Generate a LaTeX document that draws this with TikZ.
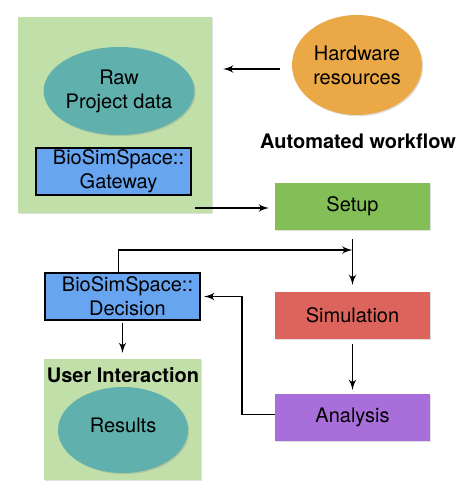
\documentclass[tikz,border=0pt]{standalone}
\usepackage{fontspec}
\setmainfont{TeX Gyre Heros}
\usetikzlibrary{arrows,positioning,shapes.geometric,shadows}

\definecolor{panelgreen}{RGB}{193,223,169}
\definecolor{blobteal}{RGB}{96,176,174}
\definecolor{gateblue}{RGB}{104,165,240}
\definecolor{hwgold}{RGB}{234,168,70}
\definecolor{setupgreen}{RGB}{132,190,87}
\definecolor{simred}{RGB}{221,100,92}
\definecolor{anapurple}{RGB}{168,111,219}

\begin{document}
\begin{tikzpicture}[x=0.5pt,y=-0.5pt,>=latex',line width=0.8pt,
    font=\fontsize{10}{12}\selectfont,
    soft/.style={drop shadow={shadow xshift=0.6pt,shadow yshift=-0.6pt,opacity=0.25}},
    panel/.style={rectangle,fill=panelgreen,outer sep=0pt,soft},
    blob/.style={ellipse,align=center,inner sep=0pt,minimum width=65pt,soft},
    gatebox/.style={rectangle,draw,line width=1.1pt,fill=gateblue,align=center,
        minimum width=77.5pt,minimum height=23.5pt,inner sep=0pt,soft},
    stagebox/.style={rectangle,minimum width=77.5pt,minimum height=23.5pt,inner sep=0pt,outer sep=0pt,soft},
    heading/.style={font=\fontsize{10}{12}\selectfont\bfseries}]
    \useasboundingbox (0,0) rectangle (475,491);

    \node[panel,minimum width=97pt,minimum height=98pt]   (topPanel)    at (115,115)   {};
    \node[blob,fill=blobteal,minimum height=44pt]         (raw)         at (119,91)    {Raw\\Project data};
    \node[gatebox]                                        (gateway)     at (113.5,171.5) {\hspace*{5pt}BioSimSpace::\\\hspace*{5pt}Gateway};
    \node[blob,fill=hwgold,minimum height=50pt]           (hardware)    at (357,65)    {Hardware\\resources};
    \node[heading]                                        (autoLabel)   at (358,141)   {Automated workflow};
    \node[stagebox,fill=setupgreen]                       (setup)       at (352.5,206.5) {Setup};
    \node[stagebox,fill=simred]                           (simulation)  [below=31pt of setup]      {Simulation};
    \node[stagebox,fill=anapurple]                        (analysis)    [below=27.5pt of simulation] {Analysis};
    \node[gatebox]                                        (decision)    at (122.5,296.5) {\hspace*{5pt}BioSimSpace::\\\hspace*{5pt}Decision};
    \node[panel,minimum width=78.5pt,minimum height=60.5pt] (bottomPanel) [below=19pt of decision] {};
    \node[heading]                                        (userLabel)   at (123,375)   {User Interaction};
    \node[blob,fill=blobteal,minimum height=43pt]         (results)     at (123,430)   {\raisebox{4.5pt}{Results}};

    \coordinate (gwOut) at ([xshift=-8.5pt,yshift=2.5pt]topPanel.south east);
    \coordinate (join)  at ([yshift=-10pt]setup.south);
    \coordinate (hwOut) at ([yshift=-2pt]hardware.west);

    \draw[->,shorten <=5.5pt,shorten >=5.5pt] (hwOut) -- (hwOut -| topPanel.east);
    \draw[->,shorten >=3pt] (gwOut) -- (gwOut -| setup.west);
    \draw[->,shorten <=4.5pt,shorten >=3.5pt] (setup) -- (simulation);
    \draw[->] ([xshift=-2pt]decision.north) |- (join);
    \draw[->,shorten <=2.5pt,shorten >=2pt] (simulation) -- (analysis);
    \draw[->,shorten >=1.5pt] ([yshift=1.5pt]analysis.west) -- ++(-16.5pt,0) |- (decision.east);
    \draw[->,shorten <=1pt,shorten >=3pt] (decision) -- (bottomPanel);
\end{tikzpicture}
\end{document}
